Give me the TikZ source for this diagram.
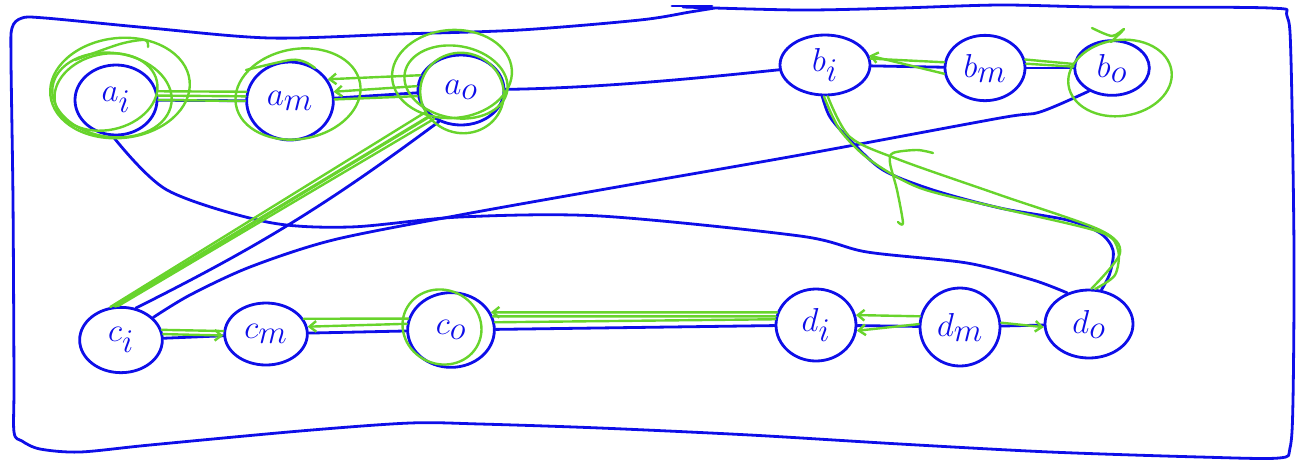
\documentclass[tikz,border=0pt]{standalone}
\usetikzlibrary{shapes.geometric,arrows.meta}

\definecolor{inkblue}{RGB}{14,14,232}
\definecolor{inkgreen}{RGB}{104,212,44}

\begin{document}
\begin{tikzpicture}[x=0.75pt,y=0.75pt,yscale=-1,xscale=1,
  state/.style={ellipse,draw=inkblue,line width=2.1pt,inner sep=0pt,text=inkblue,font=\fontsize{38}{38}\selectfont},
  wire/.style={draw=inkblue,line width=2.1pt,line cap=round,line join=round},
  hilite/.style={draw=inkgreen,line width=1.8pt,line cap=round,line join=round},
  >={Straight Barb[length=5pt,width=8pt]}]
\useasboundingbox (0,0) rectangle (1303,462);

%Shape: Frame
\draw[wire] plot[smooth,tension=0.5] coordinates {(683,7) (800,10) (900,8) (1000,5) (1100,7) (1270,8) (1287,16) (1291,60) (1294,250) (1293,400) (1290,448) (1279,458) (1200,457) (1050,452) (900,444) (750,435) (600,428) (480,424) (410,423) (300,431) (150,445) (80,452) (40,449) (22,441) (14,432) (14,380) (13,200) (11,60) (12,28) (22,18) (45,18) (150,28) (270,38) (400,34) (520,30) (640,20) (690,12) (715,8)};
\draw[wire] (672,6) -- (712,6);

% Top row
\node[state,minimum width=61.5pt,minimum height=52.5pt] (ai) at (116,100) {$a_i$};
\node[state,minimum width=65pt,minimum height=58.5pt] (am) at (290,101) {$a_m$};
\node[state,minimum width=64.5pt,minimum height=52.5pt] (ao) at (461,90) {$a_o$};
\node[state,minimum width=67.5pt,minimum height=45pt] (bi) at (825,65) {$b_i$};
\node[state,minimum width=60pt,minimum height=49pt] (bm) at (985,68) {$b_m$};
\node[state,minimum width=56pt,minimum height=41pt] (bo) at (1112,68) {$b_o$};
% Bottom row
\node[state,minimum width=62pt,minimum height=49pt] (ci) at (121,340) {$c_i$};
\node[state,minimum width=62pt,minimum height=46.5pt] (cm) at (266,334) {$c_m$};
\node[state,minimum width=65pt,minimum height=56pt] (co) at (451,330) {$c_o$};
\node[state,minimum width=60pt,minimum height=54pt] (di) at (816,325) {$d_i$};
\node[state,minimum width=60pt,minimum height=58.5pt] (dm) at (960,327) {$d_m$};
\node[state,minimum width=66pt,minimum height=51pt] (do) at (1089,324) {$d_o$};

%Straight Lines
\draw[wire] (ai) -- (am);
\draw[wire] (am) -- (ao);
\draw[wire] (bi) -- (bm);
\draw[wire] (bm) -- (bo);
\draw[wire] (ci) -- (cm);
\draw[wire] (cm) -- (co);
\draw[wire] (co) -- (di);
\draw[wire] (di) -- (dm);
\draw[wire] (dm) -- (do);
\draw[wire] (ao.-125) to[bend right=5] (ci.65);
%Curve Lines
\draw[wire] (ao) .. controls (600,88) and (700,78) .. (bi);
\draw[wire] plot[smooth] coordinates {(ai.-95) (167,190) (267,222) (350,227) (460,217) (600,216) (800,236) (867,252) (967,263) (1033,280) (do.125)};
\draw[wire] plot[smooth] coordinates {(bi.-95) (830,117) (850,140) (883,170) (933,190) (1000,208) (1067,220) (1100,233) (1113,250) (1110,273) (do.70)};
\draw[wire] plot[smooth] coordinates {(bo.-135) (1040,112) (1000,118) (800,155) (600,190) (460,215) (333,240) (250,267) (190,295) (ci.35)};

%Green loops
\draw[hilite,rotate around={-6:(120,88)}] (120,88) ellipse (70 and 50);
\draw[hilite,rotate around={8:(112,95)}] (112,95) ellipse (60 and 42);
\draw[hilite,rotate around={-12:(106,92)}] (106,92) ellipse (52 and 38);
\draw[hilite,rotate around={-10:(298,94)}] (298,94) ellipse (63 and 45);
\draw[hilite,rotate around={-4:(452,74)}] (452,74) ellipse (60 and 44);
\draw[hilite,rotate around={10:(456,82)}] (456,82) ellipse (52 and 36);
\draw[hilite,rotate around={20:(462,93)}] (462,93) ellipse (42 and 40);
\draw[hilite,rotate around={-8:(1120,78)}] (1120,78) ellipse (52 and 38);
\draw[hilite,rotate around={25:(442,327)}] (442,327) ellipse (40 and 37);
\draw[hilite] plot[smooth] coordinates {(1092,28) (1112,36) (1124,29) (1111,42)};
\draw[hilite] plot[smooth] coordinates {(75,60) (120,44) (145,40) (148,47)};
\draw[hilite] plot[smooth] coordinates {(246,70) (290,60) (305,62) (315,68)};

%Green marked path
\draw[hilite] (ai.12) -- (am.168);
\draw[hilite] (ai.6) -- (am.174);
\draw[hilite] (ai.0) -- (am.180);
\draw[hilite,->] (ao.160) -- (am.30);
\draw[hilite,->] (ao.175) -- (am.12);
\draw[hilite] (ao.188) -- (am.2);
\draw[hilite,line width=2.4pt] (ao.-140) -- (ci.100);
\draw[hilite] (ao.-148) -- (ci.108);
\draw[hilite] (ao.-133) -- (ci.95);
\draw[hilite,->] (ci.8) -- (cm.182);
\draw[hilite] (ci.14) -- (cm.176);
\draw[hilite] (cm.22) -- (co.165);
\draw[hilite,->] (co.172) -- (cm.10);
\draw[hilite] (co.18) -- (di.168);
\draw[hilite] (co.10) -- (di.172);
\draw[hilite,<-] (co.24) -- (di.162);
\draw[hilite,->] (dm.165) -- (di.14);
\draw[hilite,->] (dm.176) -- (di.-8);
\draw[hilite,->] (dm.6) -- (do.184);
\draw[hilite] plot[smooth] coordinates {(do.80) (1115,275) (1118,250) (1100,232) (1000,208) (920,188) (870,160) (840,130) (bi.-92)};
\draw[hilite] plot[smooth] coordinates {(do.86) (1120,253) (1100,230) (1000,195) (900,160) (850,137) (bi.-85)};
\draw[hilite,->] (bm.188) -- (bi.12);
\draw[hilite] (bm.172) -- (bi.8);
\draw[hilite] (bm.12) -- (bo.174);
\draw[hilite] (bm.6) -- (bo.178);
\draw[hilite] plot[smooth] coordinates {(933,153) (917,150) (893,153) (890,163) (897,190) (903,223) (898,222)};

\end{tikzpicture}
\end{document}
